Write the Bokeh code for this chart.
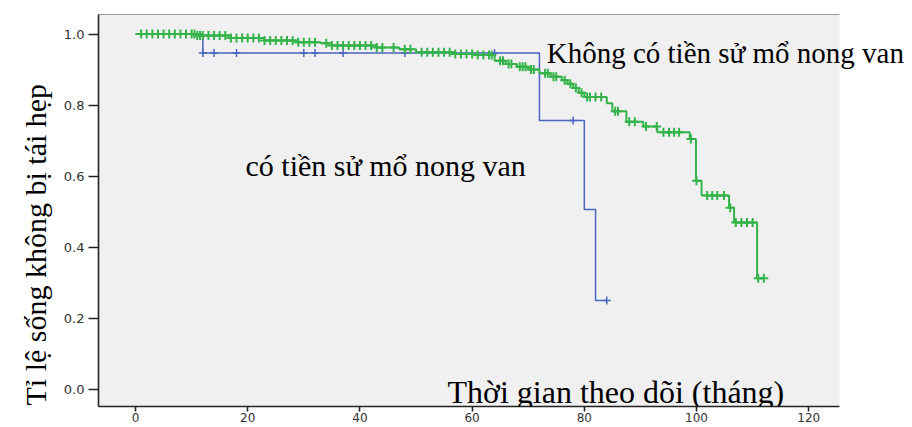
import math
from bokeh.plotting import figure
from bokeh.models import (Label, Range1d, FixedTicker, PrintfTickFormatter,
                          BoxAnnotation, LinearAxis, Title)
from bokeh.embed import file_html
from bokeh.resources import INLINE

# ---- data ----
x_ticks = [0, 20, 40, 60, 80, 100, 120]
y_ticks = [0.0, 0.2, 0.4, 0.6, 0.8, 1.0]

# Group without prior valvotomy ("Không có tiền sử mổ nong van")
green_times = [0, 11, 17, 23, 29, 33, 35, 43, 47, 50, 57, 61, 64, 66, 68, 70, 72,
               74, 76, 77, 78, 79, 80, 84, 85, 87.5, 90.5, 93, 98.8, 99.9, 100.9,
               105.8, 106.7, 110.8]
green_surv = [1.0, 0.996, 0.989, 0.982, 0.977, 0.974, 0.968, 0.962, 0.957, 0.949,
              0.944, 0.941, 0.925, 0.916, 0.908, 0.900, 0.890, 0.880, 0.870, 0.860,
              0.848, 0.835, 0.823, 0.805, 0.783, 0.753, 0.740, 0.724, 0.705, 0.587,
              0.546, 0.511, 0.470, 0.313]
green_end = 112
green_censor = [1, 2, 3, 4, 5, 6, 7, 8, 9, 10, 10.5, 11, 11.5, 12, 13, 14, 15, 16,
                17, 18, 19, 20, 21, 22, 23, 24, 25, 26, 27, 28, 29, 30, 31, 32, 34,
                35, 36, 37, 38, 39, 40, 41, 42, 43, 44, 46, 48, 49, 51, 52, 53, 54,
                55, 56, 57, 58, 59, 60, 61, 62, 63, 63.5, 65, 65.5, 66.5, 67, 68.5,
                69, 69.5, 70.5, 71, 73, 73.5, 74.5, 75, 76.5, 77.5, 78.5, 79.5, 80.5,
                81, 82, 83, 85.5, 86, 88, 89, 91, 92.9, 94.1, 95.1, 96, 96.9, 99,
                100, 101.9, 102.8, 103.7, 104.9, 106, 107, 108, 109, 110, 111, 112]

# Group with prior valvotomy ("có tiền sử mổ nong van")
blue_times = [0, 12, 72, 80, 82]
blue_surv = [1.0, 0.947, 0.757, 0.506, 0.25]
blue_end = 84
blue_censor = [12, 14, 18, 30, 32, 37, 48, 64, 78, 84]


def surv_at(t, times, surv):
    s = surv[0]
    for ti, si in zip(times, surv):
        if ti <= t:
            s = si
    return s


GREEN = "#34b34a"
BLUE = "#4a66c0"
X_LO, X_HI, X_PANEL = -6.6, 138.5, 125.5

p = figure(width=912, height=427, output_backend="svg", toolbar_location=None,
           x_range=Range1d(X_LO, X_HI), y_range=Range1d(-0.048, 1.055),
           min_border_left=98, min_border_right=0, min_border_top=14,
           min_border_bottom=21)
p.background_fill_color = "white"
p.border_fill_color = "white"
p.outline_line_color = None
p.grid.visible = False

# grey plotting panel (ends before the right edge, as in the original)
p.add_layout(BoxAnnotation(right=X_PANEL, fill_color="#f0f0f0", fill_alpha=1.0,
                           line_color=None, level="underlay"))

for ax in (p.xaxis, p.yaxis):
    ax.axis_line_color = "#222222"
    ax.axis_line_width = 1.6
    ax.major_tick_line_color = "#222222"
    ax.major_tick_line_width = 1.6
    ax.minor_tick_line_color = None
    ax.major_tick_in = 0
    ax.major_label_text_font = "DejaVu Sans"
    ax.major_label_text_color = "#333333"

p.xaxis.bounds = (X_LO, X_PANEL)
p.xaxis.ticker = FixedTicker(ticks=x_ticks)
p.yaxis.ticker = FixedTicker(ticks=y_ticks)
p.yaxis.formatter = PrintfTickFormatter(format="%.1f")
p.yaxis.major_tick_out = 10
p.yaxis.major_label_standoff = 4
p.yaxis.major_label_text_font_size = "13px"
p.xaxis.major_tick_out = 5
p.xaxis.major_label_standoff = 1
p.xaxis.major_label_text_font_size = "12px"

# thin grey top border of the panel
top_axis = LinearAxis(ticker=FixedTicker(ticks=[]), bounds=(X_LO, X_PANEL),
                      axis_line_color="#9a9a9a", axis_line_width=1,
                      major_tick_line_color=None, minor_tick_line_color=None,
                      major_label_text_font_size="0px")
p.add_layout(top_axis, "above")

# blue curve
bx = blue_times + [blue_end]
by = blue_surv + [blue_surv[-1]]
p.step(bx, by, mode="after", line_color=BLUE, line_width=1.5)
p.scatter(blue_censor, [surv_at(t, blue_times, blue_surv) for t in blue_censor],
          marker="cross", size=8, line_color=BLUE, line_width=1.5)

# green curve
gx = green_times + [green_end]
gy = green_surv + [green_surv[-1]]
p.step(gx, gy, mode="after", line_color=GREEN, line_width=2)
p.scatter(green_censor, [surv_at(t, green_times, green_surv) for t in green_censor],
          marker="cross", size=9, line_color=GREEN, line_width=2)

SERIF = "Liberation Serif"
p.add_layout(Label(x=73.3, y=0.946, text="Không có tiền sử mổ nong van",
                   text_font=SERIF, text_font_size="29px", text_color="black",
                   text_align="left", text_baseline="alphabetic"))
p.add_layout(Label(x=19.6, y=0.63, text="có tiền sử mổ nong van",
                   text_font=SERIF, text_font_size="30px", text_color="black",
                   text_align="left", text_baseline="alphabetic"))
p.add_layout(Label(x=55.6, y=-0.006, text="Thời gian theo dõi (tháng)",
                   text_font=SERIF, text_font_size="32px", text_color="black",
                   text_align="left", text_baseline="alphabetic"))

ytitle = Title(text="Tỉ lệ sống không bị tái hẹp", align="left", offset=1,
               standoff=18, text_font=SERIF, text_font_size="30px",
               text_font_style="normal", text_color="black")
p.add_layout(ytitle, "left")

open("out.html", "w").write(file_html(p, INLINE))
